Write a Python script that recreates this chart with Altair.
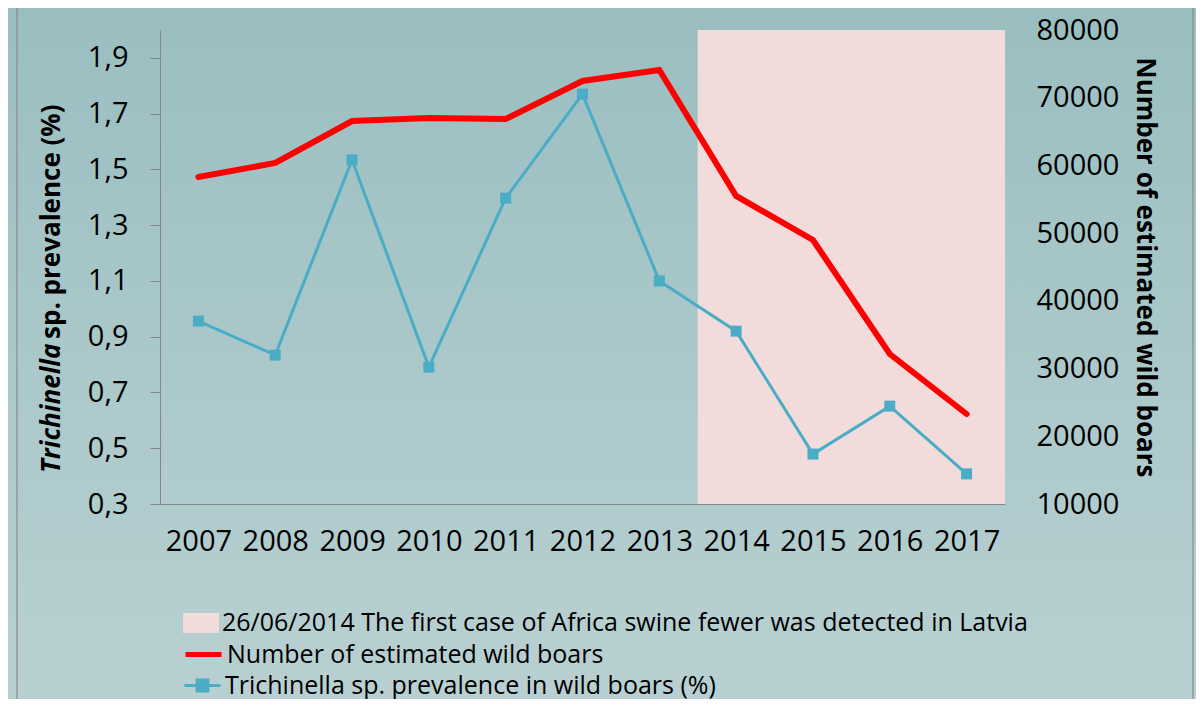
import altair as alt
import pandas as pd

# ---------------- data ----------------
years = [2007, 2008, 2009, 2010, 2011, 2012, 2013, 2014, 2015, 2016, 2017]
prevalence = [0.956, 0.834, 1.534, 0.791, 1.397, 1.770, 1.100, 0.920, 0.479, 0.651, 0.408]
boars = [58300, 60360, 66560, 67000, 66860, 72470, 74090, 55490, 48990, 32150, 23290]
left_ticks = [0.3, 0.5, 0.7, 0.9, 1.1, 1.3, 1.5, 1.7, 1.9]
right_ticks = [10000, 20000, 30000, 40000, 50000, 60000, 70000, 80000]
shade_years = [2014, 2017]
legend_shade = "26/06/2014 The first case of Africa swine fewer was detected in Latvia"
legend_boars = "Number of estimated wild boars"
legend_prev = "Trichinella sp. prevalence in wild boars (%)"
left_title_italic = "Trichinella"
left_title_rest = "sp. prevalence (%)"
right_title = "Number of estimated wild boars"

FONT = "Open Sans"
W, H = 845, 474
PAD = {"left": 152, "top": 22, "right": 191, "bottom": 195}
AX = 29      # axis label size
LG = 25      # legend label size
TT = 26      # axis title size

df = pd.DataFrame({"year": years, "prev": prevalence, "boars": boars})
df["prev_label"] = legend_prev
df["boar_label"] = legend_boars
shade_df = pd.DataFrame({"start": [shade_years[0]], "end": [shade_years[1]], "shade_label": [legend_shade]})
one = pd.DataFrame({"k": [0]})

x_axis = alt.Axis(values=years, format="d", title=None, grid=False, ticks=False,
                  domainColor="#868686", labelFont=FONT, labelFontSize=AX,
                  labelColor="black", labelPadding=23, zindex=1)
x_scale = alt.Scale(domain=[2006.5, 2017.5], nice=False, zero=False)

bg = alt.Chart(one).mark_rect(
    color=alt.Gradient(gradient="linear", x1=0, x2=0, y1=0, y2=1,
                       stops=[alt.GradientStop(color="#9abec0", offset=0),
                              alt.GradientStop(color="#aac8ca", offset=0.5),
                              alt.GradientStop(color="#b9d0d2", offset=1)])
).encode(x=alt.value(-PAD["left"]), x2=alt.value(W + PAD["right"]),
         y=alt.value(-PAD["top"]), y2=alt.value(H + PAD["bottom"]))

frame = alt.Chart(one).mark_rect(fill=None, stroke="#8a8a8a", strokeWidth=1.2).encode(
    x=alt.value(-143), x2=alt.value(1033), y=alt.value(-40), y2=alt.value(H + 260))

shade_base = alt.Chart(shade_df).transform_calculate(
    x0="datum.start - 0.5", x1="datum.end + 0.5")

shadow = shade_base.mark_rect(fill="#9aa6a8", xOffset=3, yOffset=3).encode(
    x=alt.X("x0:Q", scale=x_scale, axis=x_axis), x2="x1:Q",
    y=alt.value(0), y2=alt.value(H))

shade = shade_base.mark_rect().encode(
    x=alt.X("x0:Q", scale=x_scale, axis=x_axis), x2="x1:Q",
    y=alt.value(0), y2=alt.value(H),
    fill=alt.Fill("shade_label:N", scale=alt.Scale(range=["#f2dcdb"]),
                  legend=alt.Legend(title=None, orient="none", legendX=23, legendY=575,
                                    symbolType="M-1,-0.56H1V0.56H-1Z", symbolSize=1296,
                                    symbolStrokeWidth=0, labelFont=FONT, labelFontSize=LG,
                                    labelColor="black", labelLimit=1200, labelOffset=3,
                                    padding=0)))

blue = alt.Chart(df).mark_line(
    strokeWidth=3,
    point=alt.OverlayMarkDef(shape="square", size=121, filled=True, opacity=1)
).encode(
    x=alt.X("year:Q", scale=x_scale, axis=x_axis),
    y=alt.Y("prev:Q", scale=alt.Scale(domain=[0.3, 2.0], nice=False, zero=False),
            axis=alt.Axis(orient="left", values=left_ticks,
                          labelExpr="replace(format(datum.value, '.1f'), '.', ',')",
                          title=None, grid=False, tickSize=10, tickColor="#868686",
                          domainColor="#868686", labelFont=FONT, labelFontSize=AX,
                          labelPadding=22, labelColor="black", zindex=1)),
    color=alt.Color("prev_label:N", scale=alt.Scale(range=["#4bacc6"]),
                    legend=alt.Legend(title=None, orient="none", legendX=23, legendY=636,
                                      symbolType="M-1,0H1M-0.3,-0.3H0.3V0.3H-0.3Z",
                                      symbolSize=1296, symbolStrokeWidth=3,
                                      symbolFillColor="#4bacc6",
                                      labelFont=FONT, labelFontSize=LG, labelColor="black",
                                      labelLimit=1200, labelOffset=3, padding=0)))

red = alt.Chart(df).mark_line(strokeWidth=6, strokeCap="round").encode(
    x=alt.X("year:Q", scale=x_scale, axis=x_axis),
    y=alt.Y("boars:Q", scale=alt.Scale(domain=[10000, 80000], nice=False, zero=False),
            axis=alt.Axis(orient="right", values=right_ticks, format="d", grid=False,
                          domain=False, ticks=False, tickSize=0, labelPadding=31,
                          labelFont=FONT, labelFontSize=AX, labelColor="black",
                          title=right_title, titleFont=FONT, titleFontSize=TT,
                          titleFontWeight="bold", titleColor="black", titlePadding=13,
                          zindex=1)),
    stroke=alt.Stroke("boar_label:N", scale=alt.Scale(range=["#ff0000"]),
                      legend=alt.Legend(title=None, orient="none", legendX=23, legendY=604,
                                        symbolType="stroke", symbolSize=1296,
                                        symbolStrokeWidth=5, labelFont=FONT,
                                        labelFontSize=LG, labelColor="black",
                                        labelLimit=1200, labelOffset=3, padding=0)))

t1 = alt.Chart(one).mark_text(text=left_title_italic, font=FONT, fontSize=TT,
                              fontStyle="italic", fontWeight="bold", angle=270,
                              align="left", baseline="middle", color="black").encode(
    x=alt.value(-108), y=alt.value(443))
t2 = alt.Chart(one).mark_text(text=left_title_rest, font=FONT, fontSize=TT,
                              fontWeight="bold", angle=270,
                              align="left", baseline="middle", color="black").encode(
    x=alt.value(-108), y=alt.value(309))

chart = alt.layer(bg, frame, shadow, shade, blue, red, t1, t2).resolve_scale(
    y="independent"
).properties(
    width=W, height=H,
    autosize=alt.AutoSizeParams(type="none"),
    padding=PAD,
    background="#b0cacc",
).configure_view(stroke=None)

chart.save("out.html", embed_options={"renderer": "svg", "actions": False})
